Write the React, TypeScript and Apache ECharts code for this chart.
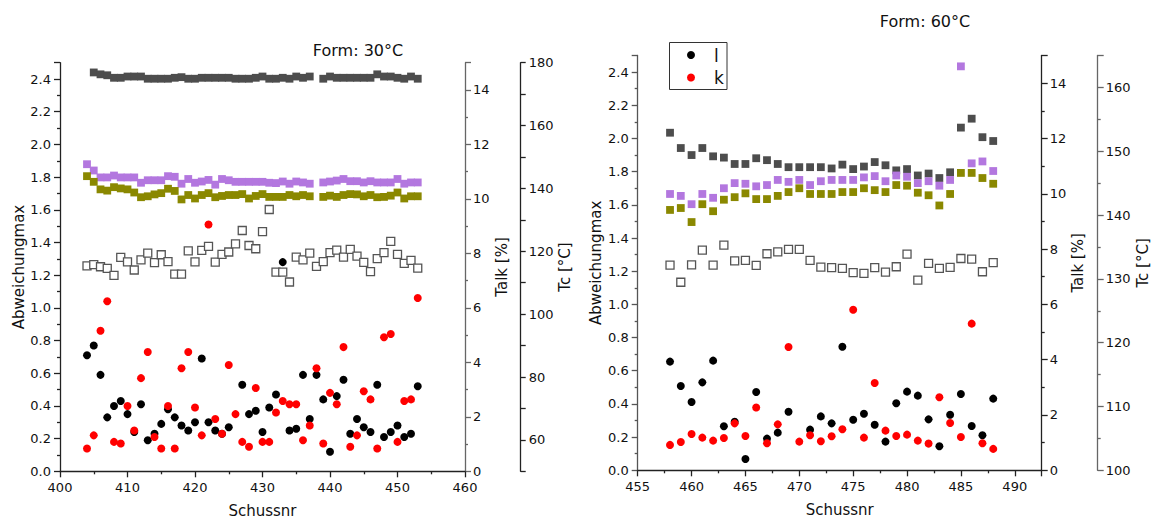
import React, { useEffect, useRef } from "react";
import * as echarts from "echarts";

// ---------- data: left panel (Form: 30°C) ----------
const shotsLeft = [
  404, 405, 406, 407, 408, 409, 410, 411, 412, 413,
  414, 415, 416, 417, 418, 419, 420, 421, 422, 423,
  424, 425, 426, 427, 428, 429, 430, 431, 432, 433,
  434, 435, 436, 437, 438, 439, 440, 441, 442, 443,
  444, 445, 446, 447, 448, 449, 450, 451, 452, 453,
];
const lLeft = [
  0.71, 0.77, 0.59, 0.33, 0.40, 0.43, 0.35, 0.24, 0.41, 0.19,
  0.23, 0.29, 0.38, 0.33, 0.28, 0.25, 0.30, 0.69, 0.30, 0.25,
  0.23, 0.27, null, 0.53, 0.35, 0.37, 0.24, 0.39, 0.47, 1.28,
  0.25, 0.26, 0.59, 0.32, 0.59, 0.44, 0.12, 0.46, 0.56, 0.23,
  0.32, 0.27, 0.24, 0.53, 0.21, 0.24, 0.28, 0.21, 0.23, 0.52,
];
const kLeft = [
  0.14, 0.22, 0.86, 1.04, 0.18, 0.17, 0.40, 0.25, 0.57, 0.73,
  0.21, 0.14, 0.40, 0.14, 0.63, 0.73, 0.39, 0.22, 1.51, 0.32,
  0.23, 0.65, 0.35, 0.18, 0.15, 0.51, 0.18, 0.18, 0.36, 0.43,
  0.41, 0.41, 0.19, 0.28, 0.63, 0.17, 0.48, 0.41, 0.76, 0.15,
  0.22, 0.49, 0.44, 0.14, 0.82, 0.84, 0.18, 0.43, 0.44, 1.06,
];
const tcDarkLeft = [
  null, 176.9, 176.3, 176.0, 175.2, 175.2, 175.6, 175.6, 175.6, 174.9,
  174.9, 174.9, 174.9, 175.2, 175.4, 174.9, 174.9, 175.2, 175.2, 175.2,
  175.2, 175.2, 174.9, 174.9, 174.9, 175.2, 175.6, 174.9, 174.9, 175.2,
  174.9, 175.6, 175.2, 175.6, null, 174.9, 175.6, 175.2, 175.2, 175.2,
  175.2, 175.2, 175.2, 176.3, 175.6, 175.6, 175.2, 174.9, 175.6, 174.9,
];
const tcPurpleLeft = [
  147.7, 145.7, 143.5, 143.5, 144.1, 143.5, 143.5, 143.5, 141.8, 142.6,
  142.6, 142.6, 143.9, 143.7, 141.5, 143.0, 141.8, 142.2, 142.7, 141.2,
  143.0, 142.6, 142.1, 142.1, 142.1, 142.1, 142.1, 141.8, 141.7, 142.2,
  141.5, 142.2, 141.9, 141.5, null, 141.9, 142.2, 142.5, 143.0, 142.3,
  142.3, 141.9, 142.3, 141.9, 141.9, 141.9, 143.0, 141.5, 141.9, 141.9,
];
const tcOliveLeft = [
  143.9, 142.1, 139.7, 139.3, 140.4, 140.0, 139.7, 138.7, 137.2, 137.5,
  138.1, 138.5, 139.9, 139.2, 136.5, 137.9, 136.8, 137.9, 138.5, 137.2,
  137.6, 137.9, 137.9, 138.2, 136.8, 137.6, 138.2, 137.3, 137.3, 137.3,
  137.9, 137.5, 137.9, 137.5, null, 137.3, 137.7, 137.3, 137.9, 138.2,
  138.1, 137.5, 137.9, 137.2, 137.3, 137.7, 138.7, 136.8, 137.5, 137.5,
];
const talkLeft = [
  7.54, 7.59, 7.51, 7.45, 7.19, 7.85, 7.69, 7.39, 7.76, 8.01,
  7.66, 7.95, 7.70, 7.24, 7.24, 8.09, 7.69, 8.11, 8.26, 7.68,
  7.96, 8.05, 8.35, 8.84, 8.29, 8.17, 8.80, 9.61, 7.31, 7.31,
  6.95, 7.86, 7.76, 8.01, 7.52, 7.70, 8.03, 8.12, 7.86, 8.15,
  7.90, 7.67, 7.33, 7.81, 8.03, 8.44, 7.96, 7.63, 7.74, 7.46,
];

// ---------- data: right panel (Form: 60°C) ----------
const shotsRight = [
  458, 459, 460, 461, 462, 463, 464, 465, 466, 467,
  468, 469, 470, 471, 472, 473, 474, 475, 476, 477,
  478, 479, 480, 481, 482, 483, 484, 485, 486, 487,
  488,
];
const lRight = [
  0.655, 0.508, 0.412, 0.53, 0.661, 0.265, 0.293, 0.068, 0.472, 0.191,
  0.227, 0.353, null, 0.245, 0.325, 0.283, 0.745, 0.305, 0.341, 0.275,
  0.173, 0.404, 0.474, 0.45, 0.307, 0.145, 0.335, 0.46, 0.267, 0.211,
  0.432,
];
const kRight = [
  0.153, 0.171, 0.219, 0.197, 0.179, 0.195, 0.283, 0.207, 0.378, 0.163,
  0.277, 0.743, 0.173, 0.211, 0.175, 0.205, 0.247, 0.968, 0.197, 0.526,
  0.239, 0.207, 0.215, 0.179, 0.161, 0.44, 0.285, 0.201, 0.884, 0.163,
  0.129,
];
const tcDarkRight = [
  152.9, 150.5, 149.4, 150.5, 149.2, 149.0, 148.0, 148.0, 148.9, 148.6,
  148.0, 147.5, 147.5, 147.5, 147.5, 147.3, 147.9, 147.2, 147.6, 148.3,
  147.8, 147.0, 147.2, 146.2, 146.5, 145.8, 146.7, 153.7, 155.1, 152.2,
  151.6,
];
const tcPurpleRight = [
  143.3, 143.0, 141.7, 143.3, 142.7, 144.2, 145.0, 144.9, 144.5, 144.7,
  145.5, 145.2, 145.5, 144.7, 145.3, 145.5, 145.5, 145.5, 145.9, 146.1,
  145.3, 146.2, 146.0, 145.0, 145.3, 144.6, 145.5, 163.3, 148.1, 148.4,
  146.9,
];
const tcOliveRight = [
  140.8, 141.1, 138.9, 141.7, 140.6, 142.4, 142.8, 143.4, 142.5, 142.5,
  143.0, 143.6, 144.2, 143.3, 143.3, 143.3, 143.6, 143.6, 144.2, 143.9,
  143.6, 144.7, 144.6, 143.5, 143.1, 141.5, 143.3, 146.6, 146.6, 145.8,
  144.9,
];
const talkRight = [
  7.42, 6.80, 7.43, 7.96, 7.42, 8.14, 7.57, 7.59, 7.41, 7.83,
  7.90, 7.99, 7.99, 7.59, 7.35, 7.33, 7.30, 7.15, 7.12, 7.33,
  7.17, 7.36, 7.82, 6.88, 7.48, 7.30, 7.34, 7.66, 7.64, 7.18,
  7.51,
];

const titles = ["Form: 30°C", "Form: 60°C"];
const legendNames = ["l", "k"];

const FONT = "'DejaVu Sans', sans-serif";
const C_L = "#000000";
const C_K = "#ff0000";
const C_DARK = "#4d4d4d";
const C_PURPLE = "#b377df";
const C_OLIVE = "#8a8800";
const C_OPEN = "#555555";

function pairs(xs: number[], ys: (number | null)[]) {
  const out: number[][] = [];
  xs.forEach((x, i) => {
    const y = ys[i];
    if (y !== null && y !== undefined) out.push([x, y]);
  });
  return out;
}

const isMult = (v: number, step: number) =>
  Math.abs(v / step - Math.round(v / step)) < 1e-6;

function axisBase(color: string) {
  return {
    axisLine: { show: true, lineStyle: { color, width: 1.3 } },
    axisTick: { show: true, length: 6, lineStyle: { color, width: 1.3 } },
    minorTick: { show: true, splitNumber: 2, length: 3, lineStyle: { color, width: 1.3 } },
    splitLine: { show: false },
    minorSplitLine: { show: false },
    nameTextStyle: { fontFamily: FONT, fontSize: 15, color: "#111" },
  };
}

function App() {
  const ref = useRef<HTMLDivElement>(null);
  useEffect(() => {
    if (!ref.current) return;
    const chart = echarts.init(ref.current, null, { renderer: "svg" });

    const label = (fmt: (v: number) => string, margin = 8) => ({
      fontFamily: FONT,
      fontSize: 13,
      color: "#111",
      margin,
      formatter: fmt,
    });

    const fmtAbw = (v: number) => (isMult(v, 0.2) ? v.toFixed(1) : "");
    const fmtTalk = (v: number) => (isMult(v, 2) ? String(v) : "");
    const fmtTcL = (v: number) => (isMult(v, 20) ? String(v) : "");
    const fmtTcR = (v: number) => (isMult(v, 10) ? String(v) : "");
    const fmtX10 = (v: number) => (isMult(v, 10) ? String(v) : "");
    const fmtX5 = (v: number) => (isMult(v, 5) ? String(v) : "");

    const scatter = (
      name: string,
      xi: number,
      yi: number,
      data: number[][],
      color: string,
      symbol: string,
      size: number,
      open = false
    ) => ({
      type: "scatter",
      name,
      xAxisIndex: xi,
      yAxisIndex: yi,
      data,
      symbol,
      symbolSize: size,
      itemStyle: open
        ? { color: "#ffffff", borderColor: color, borderWidth: 1.3, opacity: 1 }
        : { color, opacity: 1 },
      emphasis: { disabled: true },
    });

    const option: any = {
      animation: false,
      grid: [
        { left: 60, top: 62.7, width: 405, height: 408.6, containLabel: false },
        { left: 637.7, top: 55.5, width: 404, height: 414.8, containLabel: false },
      ],
      xAxis: [
        {
          type: "value",
          gridIndex: 0,
          min: 400,
          max: 460,
          interval: 10,
          name: "Schussnr",
          nameLocation: "middle",
          nameGap: 32,
          ...axisBase("#222"),
          axisLabel: label(fmtX10, 10),
        },
        {
          type: "value",
          gridIndex: 1,
          min: 455,
          max: 492.5,
          interval: 5,
          name: "Schussnr",
          nameLocation: "middle",
          nameGap: 32,
          ...axisBase("#222"),
          axisLabel: label(fmtX5, 10),
        },
      ],
      yAxis: [
        {
          type: "value",
          gridIndex: 0,
          position: "left",
          min: 0,
          max: 2.5,
          interval: 0.2,
          name: "Abweichungmax",
          nameLocation: "middle",
          nameRotate: 90,
          nameGap: 34,
          ...axisBase("#222"),
          axisLabel: label(fmtAbw, 9),
        },
        {
          type: "value",
          gridIndex: 0,
          position: "right",
          offset: 0,
          min: 0,
          max: 15,
          interval: 2,
          name: "Talk [%]",
          nameLocation: "middle",
          nameRotate: 90,
          nameGap: 29,
          ...axisBase("#666"),
          axisLabel: label(fmtTalk, 8),
        },
        {
          type: "value",
          gridIndex: 0,
          position: "right",
          offset: 55.7,
          min: 50,
          max: 180,
          interval: 10,
          name: "Tc [°C]",
          nameLocation: "middle",
          nameRotate: 90,
          nameGap: 36,
          ...axisBase("#222"),
          minorTick: { show: false },
          axisTick: { show: true, length: 5, lineStyle: { color: "#222", width: 1.3 } },
          axisLabel: label(fmtTcL, 8),
        },
        {
          type: "value",
          gridIndex: 1,
          position: "left",
          min: 0,
          max: 2.5,
          interval: 0.2,
          name: "Abweichungmax",
          nameLocation: "middle",
          nameRotate: 90,
          nameGap: 34,
          ...axisBase("#555"),
          axisLabel: label(fmtAbw, 9),
        },
        {
          type: "value",
          gridIndex: 1,
          position: "right",
          offset: 0,
          min: 0,
          max: 15,
          interval: 2,
          name: "Talk [%]",
          nameLocation: "middle",
          nameRotate: 90,
          nameGap: 29,
          ...axisBase("#222"),
          axisLabel: label(fmtTalk, 8),
        },
        {
          type: "value",
          gridIndex: 1,
          position: "right",
          offset: 56,
          min: 100,
          max: 165,
          interval: 10,
          name: "Tc [°C]",
          nameLocation: "middle",
          nameRotate: 90,
          nameGap: 38,
          ...axisBase("#666"),
          axisLabel: label(fmtTcR, 8),
        },
      ],
      series: [
        scatter("Talk", 0, 1, pairs(shotsLeft, talkLeft), C_OPEN, "rect", 8, true),
        scatter("Tc 1", 0, 2, pairs(shotsLeft, tcDarkLeft), C_DARK, "rect", 7.8),
        scatter("Tc 2", 0, 2, pairs(shotsLeft, tcPurpleLeft), C_PURPLE, "rect", 7.8),
        scatter("Tc 3", 0, 2, pairs(shotsLeft, tcOliveLeft), C_OLIVE, "rect", 7.8),
        scatter(legendNames[0], 0, 0, pairs(shotsLeft, lLeft), C_L, "circle", 8),
        scatter(legendNames[1], 0, 0, pairs(shotsLeft, kLeft), C_K, "circle", 8),

        scatter("Talk", 1, 4, pairs(shotsRight, talkRight), C_OPEN, "rect", 8, true),
        scatter("Tc 1", 1, 5, pairs(shotsRight, tcDarkRight), C_DARK, "rect", 7.8),
        scatter("Tc 2", 1, 5, pairs(shotsRight, tcPurpleRight), C_PURPLE, "rect", 7.8),
        scatter("Tc 3", 1, 5, pairs(shotsRight, tcOliveRight), C_OLIVE, "rect", 7.8),
        scatter(legendNames[0], 1, 3, pairs(shotsRight, lRight), C_L, "circle", 8),
        scatter(legendNames[1], 1, 3, pairs(shotsRight, kRight), C_K, "circle", 8),
      ],
      graphic: [
        {
          type: "text",
          x: 358,
          y: 50,
          style: {
            text: titles[0],
            fontFamily: FONT,
            fontSize: 16,
            fill: "#111",
            align: "center",
            verticalAlign: "middle",
          },
        },
        {
          type: "text",
          x: 925,
          y: 21.5,
          style: {
            text: titles[1],
            fontFamily: FONT,
            fontSize: 16,
            fill: "#111",
            align: "center",
            verticalAlign: "middle",
          },
        },
        {
          type: "rect",
          shape: { x: 669.5, y: 42.5, width: 57.5, height: 47 },
          style: { fill: "#ffffff", stroke: "#333", lineWidth: 1 },
          z: 100,
        },
        {
          type: "circle",
          shape: { cx: 691, cy: 55, r: 4 },
          style: { fill: C_L },
          z: 101,
        },
        {
          type: "circle",
          shape: { cx: 691, cy: 77.5, r: 4 },
          style: { fill: C_K },
          z: 101,
        },
        {
          type: "text",
          x: 714,
          y: 55.5,
          style: {
            text: legendNames[0],
            fontFamily: FONT,
            fontSize: 17,
            fill: "#111",
            align: "left",
            verticalAlign: "middle",
          },
          z: 101,
        },
        {
          type: "text",
          x: 714,
          y: 78,
          style: {
            text: legendNames[1],
            fontFamily: FONT,
            fontSize: 17,
            fill: "#111",
            align: "left",
            verticalAlign: "middle",
          },
          z: 101,
        },
      ],
    };

    chart.setOption(option);
    return () => chart.dispose();
  }, []);

  return (
    <div
      ref={ref}
      style={{ position: "absolute", left: 0, top: 0, width: 1155, height: 524, background: "#fff" }}
    />
  );
}

export default App;
